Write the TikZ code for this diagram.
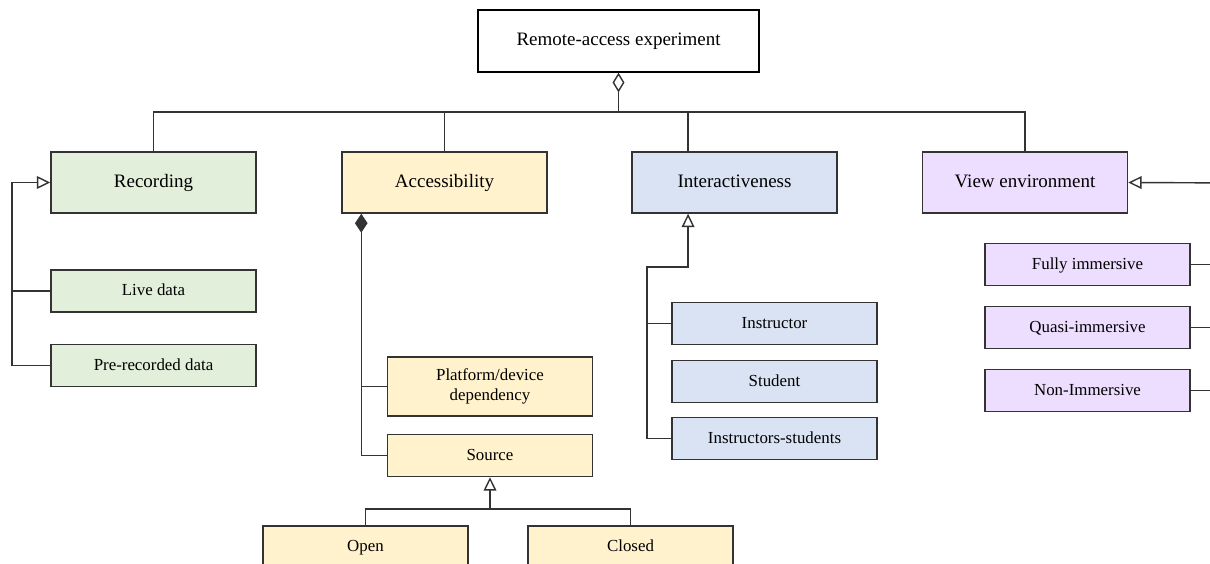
\documentclass[tikz,border=0pt]{standalone}
\usepackage{fontspec}
\setmainfont{Liberation Serif}
\usepackage{xcolor}
\usepackage{tikz}
\usetikzlibrary{shapes,arrows,arrows.meta}
\definecolor{recgreen}{HTML}{E2EFDA}
\definecolor{accyellow}{HTML}{FFF2CC}
\definecolor{intblue}{HTML}{DAE3F3}
\definecolor{viewpurple}{HTML}{EDDDFF}
\definecolor{edge}{HTML}{333333}
\tikzstyle{root}=[rectangle, draw=black, line width=1pt, fill=white,
        minimum width=7.025cm, minimum height=1.55cm,
        font=\fontsize{13.5}{16}\selectfont]
\tikzstyle{category}=[rectangle, draw=edge, line width=1pt,
        minimum width=5.125cm, minimum height=1.525cm,
        text height=1.8ex, text depth=0.3ex,
        font=\fontsize{13.5}{16}\selectfont]
\tikzstyle{twoline}=[rectangle, draw=edge, line width=1pt,
        minimum width=5.125cm, minimum height=1.05cm, align=center,
        font=\fontsize{12}{14}\selectfont]
\tikzstyle{item}=[twoline, text height=1.8ex, text depth=0.3ex]
\tikzstyle{link}=[draw=edge, line width=1pt]
\tikzstyle{inherit}=[link, -{Triangle[open, length=9.5pt, width=9pt]}]

\begin{document}
\begin{tikzpicture}
      [x=0.025cm, y=-0.025cm]
      \useasboundingbox (0,0) rectangle (1210,564);
      \clip (0,0) rectangle (1210,564);
      % Place nodes
      \node [root] (rae) at (618.5,41) {Remote-access experiment};
      \node [category, fill=recgreen] (rec) at (153.5,182.5) {Recording};
      \node [category, fill=accyellow] (acc) at (444.5,182.5) {Accessibility};
      \node [category, fill=intblue] (int) at (734.5,182.5) {Interactiveness};
      \node [category, fill=viewpurple] (view) at (1025,182.5) {View environment};
      \node [item, fill=recgreen] (live) at (153.5,291) {Live data};
      \node [item, fill=recgreen] (prerec) at (153.5,365.5) {Pre-recorded data};
      \node [twoline, fill=accyellow, minimum height=1.475cm] (platform) at (490,386.5) {Platform/device\\dependency};
      \node [item, fill=accyellow] (source) at (490,455.5) {Source};
      \node [item, fill=accyellow] (open) at (365.5,547) {Open};
      \node [item, fill=accyellow] (closed) at (630.5,547) {Closed};
      \node [item, fill=intblue] (instr) at (774.5,323.5) {Instructor};
      \node [item, fill=intblue] (stud) at (774.5,381.5) {Student};
      \node [item, fill=intblue] (instrstud) at (774.5,438.5) {Instructors-students};
      \node [item, fill=viewpurple] (full) at (1087.5,264.5) {Fully immersive};
      \node [item, fill=viewpurple] (quasi) at (1087.5,327.5) {Quasi-immersive};
      \node [item, fill=viewpurple] (nonimm) at (1087.5,390.5) {Non-Immersive};
      \coordinate (bus) at (618.5,112);
      \coordinate (recbus) at (12,182.5);
      \coordinate (srcbus) at (490,509);
      \coordinate (intbus) at (647,267);
      \coordinate (rightedge) at (1240,183);
      % Draw edges
      \draw [link, {Diamond[open, length=14pt, width=8.5pt]}-] (rae.south) -- (bus);
      \draw [link] (rec.north) |- (view.north |- bus) -- (view.north);
      \draw [link] (acc.north) -- (acc.north |- bus);
      \draw [link] ([xshift=-1.16cm]int.north) -- ([xshift=-1.16cm]int.north |- bus);
      \draw [inherit] (prerec.west) -| (recbus) -- (rec.west);
      \draw [link] (live.west) -- (live.west -| recbus);
      \draw [link, {Diamond[length=13.5pt, width=9pt]}-] ([xshift=0.5cm]acc.south west) |- (source.west);
      \draw [link] (platform.west) -- ++(-25,0);
      \draw [link] (open.north) |- (srcbus) -| (closed.north);
      \draw [inherit] (srcbus) -- (source.south);
      \draw [inherit] (instrstud.west) -| (intbus) -| ([xshift=-1.16cm]int.south);
      \draw [link] (instr.west) -- (instr.west -| intbus);
      \draw [inherit] (rightedge) -- (view.east);
      \draw [link] (full.east) -- (full.east -| rightedge);
      \draw [link] (quasi.east) -- (quasi.east -| rightedge);
      \draw [link] (nonimm.east) -- (nonimm.east -| rightedge);
    \end{tikzpicture}
\end{document}
